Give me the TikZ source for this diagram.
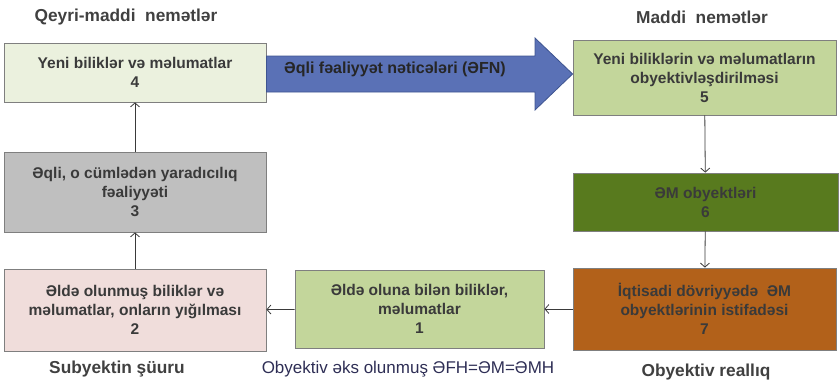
\documentclass[tikz,border=0pt]{standalone}
\usepackage{fontspec}
\setmainfont{Liberation Sans}
\usetikzlibrary{arrows,arrows.meta}
\definecolor{paleGreen}{HTML}{EBF1DE}
\definecolor{midGreen}{HTML}{C3D69B}
\definecolor{oliveGreen}{HTML}{587A1E}
\definecolor{rustBrown}{HTML}{B2611A}
\definecolor{softGray}{HTML}{BFBFBF}
\definecolor{softPink}{HTML}{F0DDDB}
\definecolor{arrowBlue}{HTML}{5A71B6}
\definecolor{arrowLine}{HTML}{3E5490}
\definecolor{boxLine}{HTML}{7F7F7F}
\definecolor{boxText}{HTML}{3A3A3A}
\definecolor{headText}{HTML}{404040}
\definecolor{noteText}{HTML}{2E2E55}

\begin{document}
\begin{tikzpicture}[x=1pt,y=-1pt,>={Straight Barb[length=4pt,width=9pt]},
	box/.style={draw=boxLine,line width=0.8pt,minimum width=262pt,align=center,text=boxText,font=\bfseries\fontsize{15.5}{19}\selectfont},
	head/.style={text=headText,font=\bfseries\fontsize{17.3}{20}\selectfont},
	link/.style={->,draw=boxText,line width=0.8pt},
	fealArrow/.style={fill=arrowBlue,draw=arrowLine,line width=0.8pt}]
	\useasboundingbox (0,0) rectangle (840,384);
	\node[box,fill=paleGreen,minimum height=59pt] (b4) at (135,72.5) {Yeni biliklər və məlumatlar\\4};
	\node[box,fill=softGray,minimum height=80pt] (b3) at (135,192) {Əqli, o cümlədən yaradıcılıq\\fəaliyyəti\\3};
	\node[box,fill=softPink,minimum height=82pt] (b2) at (135,310) {Əldə olunmuş biliklər və\\məlumatlar, onların yığılması\\2};
	\node[box,fill=midGreen,minimum height=78pt,minimum width=249pt] (b1) at (419.5,309) {Əldə oluna bilən biliklər,\\məlumatlar\\1};
	\node[box,fill=rustBrown,minimum height=82pt,minimum width=263pt] (b7) at (704.5,309) {İqtisadi dövriyyədə\ \ ƏM\\obyektlərinin istifadəsi\\7};
	\node[box,fill=oliveGreen,minimum height=58pt,minimum width=265pt] (b6) at (705.5,202) {ƏM obyektləri\\6};
	\node[box,fill=midGreen,minimum height=75pt,minimum width=263pt] (b5) at (704.5,77.5) {Yeni biliklərin və məlumatların\\obyektivləşdirilməsi\\5};
	\node[head] (qm) at (126,17) {Qeyri-maddi\ \ nemətlər};
	\node[head] (mn) at (702,17) {Maddi\ \ nemətlər};
	\node[head] (sub) at (117,369) {Subyektin şüuru};
	\node[head] (obr) at (706,372) {Obyektiv reallıq};
	\node[text=noteText,font=\fontsize{17}{20}\selectfont] (obe) at (408,369) {Obyektiv əks olunmuş ƏFH=ƏM=ƏMH};
	\draw[fealArrow] (b4.east |- 0,56) -- (535,56) -- (535,38) -- (b5.west |- 0,74)
		-- (535,110) -- (535,92) -- (b4.east |- 0,92) -- cycle;
	\node[text=black!85,font=\bfseries\fontsize{16}{19}\selectfont] (efn) at (395,69) {Əqli fəaliyyət nəticələri (ƏFN)};
	\path[link] (b3) edge (b4)
		(b2) edge (b3)
		(b5) edge (b6)
		(b6) edge (b7)
		(b7) edge (b1)
		(b1) edge (b2);
\end{tikzpicture}
\end{document}
